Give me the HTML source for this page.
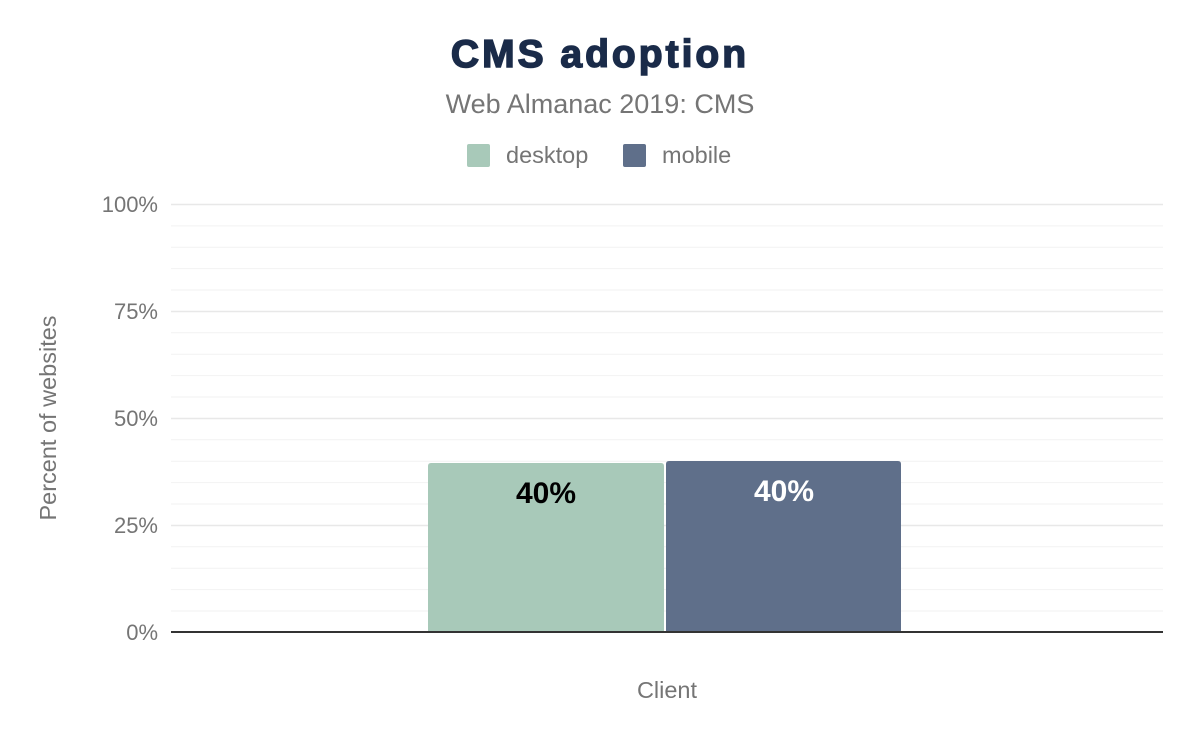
<!DOCTYPE html>
<html><head><meta charset="utf-8"><style>
html,body{margin:0;padding:0;background:#fff;}
svg{display:block;font-family:"Liberation Sans",Arial,sans-serif;}
</style></head><body>
<svg width="1200" height="742" viewBox="0 0 1200 742">
<text x="600" y="67" text-anchor="middle" font-size="39" font-weight="bold" fill="#1a2b49" letter-spacing="3" stroke="#1a2b49" stroke-width="1.5">CMS adoption</text>
<text x="600" y="113" text-anchor="middle" font-size="27" fill="#757575">Web Almanac 2019: CMS</text>
<rect x="467" y="144" width="23" height="23" rx="2" fill="#a8c9b9"/>
<text x="506" y="163" font-size="23.5" fill="#757575">desktop</text>
<rect x="623" y="144" width="23" height="23" rx="2" fill="#5f6f8a"/>
<text x="662" y="163" font-size="23.5" fill="#757575">mobile</text>
<g stroke="#f2f2f2" stroke-width="1">
<line x1="171" x2="1163" y1="225.9" y2="225.9"/><line x1="171" x2="1163" y1="247.2" y2="247.2"/><line x1="171" x2="1163" y1="268.6" y2="268.6"/><line x1="171" x2="1163" y1="290" y2="290"/>
<line x1="171" x2="1163" y1="332.8" y2="332.8"/><line x1="171" x2="1163" y1="354.2" y2="354.2"/><line x1="171" x2="1163" y1="375.6" y2="375.6"/><line x1="171" x2="1163" y1="397" y2="397"/>
<line x1="171" x2="1163" y1="439.8" y2="439.8"/><line x1="171" x2="1163" y1="461.2" y2="461.2"/><line x1="171" x2="1163" y1="482.6" y2="482.6"/><line x1="171" x2="1163" y1="504" y2="504"/>
<line x1="171" x2="1163" y1="546.8" y2="546.8"/><line x1="171" x2="1163" y1="568.2" y2="568.2"/><line x1="171" x2="1163" y1="589.6" y2="589.6"/><line x1="171" x2="1163" y1="611" y2="611"/>
</g>
<g stroke="#e8e8e8" stroke-width="1.5">
<line x1="171" x2="1163" y1="204.5" y2="204.5"/><line x1="171" x2="1163" y1="311.5" y2="311.5"/><line x1="171" x2="1163" y1="418.5" y2="418.5"/><line x1="171" x2="1163" y1="525.5" y2="525.5"/>
</g>
<g font-size="22" fill="#757575" text-anchor="end">
<text x="158" y="212">100%</text><text x="158" y="319">75%</text><text x="158" y="426">50%</text><text x="158" y="533">25%</text><text x="158" y="640">0%</text>
</g>
<text transform="translate(56,418) rotate(-90)" text-anchor="middle" font-size="23.5" fill="#757575">Percent of websites</text>
<path d="M428,632 V466 Q428,463 431,463 H661 Q664,463 664,466 V632 Z" fill="#a8c9b9"/>
<path d="M666,632 V464 Q666,461 669,461 H898 Q901,461 901,464 V632 Z" fill="#5f6f8a"/>
<text x="546" y="503" text-anchor="middle" font-size="30" font-weight="bold" fill="#000">40%</text>
<text x="784" y="501" text-anchor="middle" font-size="30" font-weight="bold" fill="#fff">40%</text>
<line x1="171" x2="1163" y1="632" y2="632" stroke="#333" stroke-width="2"/>
<text x="667" y="698" text-anchor="middle" font-size="23.5" fill="#757575">Client</text>
</svg>
</body></html>
